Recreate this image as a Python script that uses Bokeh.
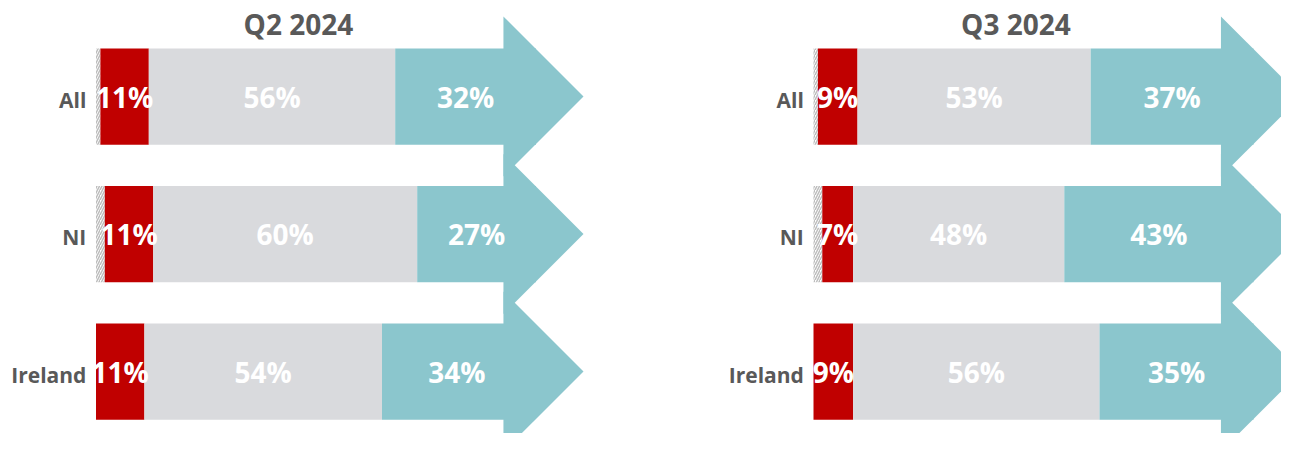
import numpy as np
from bokeh.plotting import figure
from bokeh.layouts import row
from bokeh.core.properties import value
from bokeh.embed import file_html
from bokeh.resources import INLINE

categories = ["All", "NI", "Ireland"]
periods = ["Q2 2024", "Q3 2024"]

q2_dont_know = [1, 2, 0]
q2_decrease = [11, 11, 11]
q2_same = [56, 60, 54]
q2_increase = [32, 27, 34]

q3_dont_know = [1, 2, 0]
q3_decrease = [9, 7, 9]
q3_same = [53, 48, 56]
q3_increase = [37, 43, 35]

RED = "#C00000"
GREY = "#D9DADD"
TEAL = "#8BC6CD"
TXT = "#595959"
FONT = value("Open Sans")

PX_PER_PCT = 4.4
PX_PER_ROW = 137.5
HEIGHT = 433
Y_START = -62 / PX_PER_ROW
Y_END = Y_START + HEIGHT / PX_PER_ROW

ARROW_BASE = 92.6
ARROW_LEN = 18.2
ARROW_HALF = 80 / PX_PER_ROW
BAR_H = 0.70


def panel(title, dk, dec, same, inc, width, zero_px):
    x_start = -zero_px / PX_PER_PCT
    p = figure(width=width, height=HEIGHT,
               x_range=(x_start, x_start + width / PX_PER_PCT),
               y_range=(Y_START, Y_END),
               output_backend="svg", toolbar_location=None,
               min_border=0, min_border_left=0, min_border_right=0,
               min_border_top=0, min_border_bottom=0,
               outline_line_color=None, background_fill_color="white",
               border_fill_color="white")
    p.axis.visible = False
    p.grid.visible = False

    n = len(categories)
    ys = [n - 1 - i for i in range(n)]
    dk = np.array(dk, float)
    dec = np.array(dec, float)
    same = np.array(same, float)
    inc = np.array(inc, float)
    s0 = np.zeros(n)
    s1 = s0 + dk
    s2 = s1 + dec
    s3 = s2 + same
    s4 = s3 + inc

    # don't know (hatched)
    p.hbar(y=ys, left=s0, right=s1, height=BAR_H, fill_color="white",
           line_color=None, hatch_pattern="/", hatch_color="#bdbdbd",
           hatch_scale=5, hatch_weight=1.5)
    p.hbar(y=ys, left=s1, right=s2, height=BAR_H, fill_color=RED, line_color=None)
    p.hbar(y=ys, left=s2, right=s3, height=BAR_H, fill_color=GREY, line_color=None)
    p.hbar(y=ys, left=s3, right=s4, height=BAR_H, fill_color=TEAL, line_color=None)

    # arrow heads
    axs = [[ARROW_BASE, ARROW_BASE + ARROW_LEN, ARROW_BASE] for _ in ys]
    ays = [[y + ARROW_HALF, y, y - ARROW_HALF] for y in ys]
    p.patches(xs=axs, ys=ays, fill_color=TEAL, line_color=None)

    # value labels
    lx = list((s1 + s2) / 2) + list((s2 + s3) / 2) + list((s3 + s4) / 2)
    ly = ys * 3
    lt = [f"{int(v)}%" for v in list(dec) + list(same) + list(inc)]
    p.text(x=lx, y=ly, text=lt, text_align="center", text_baseline="middle",
           text_font=FONT, text_font_size="28px", text_font_style="bold",
           text_color="white")

    # category labels
    p.text(x=[-2.2] * n, y=ys, text=categories, text_align="right",
           text_baseline="middle", y_offset=3,
           text_font=FONT, text_font_size="21px", text_font_style="bold",
           text_color=TXT)

    # title
    p.text(x=[46], y=[Y_END - 23 / PX_PER_ROW], text=[title],
           text_align="center", text_baseline="middle",
           text_font=FONT, text_font_size="28px", text_font_style="bold",
           text_color=TXT)
    return p


p1 = panel(periods[0], q2_dont_know, q2_decrease, q2_same, q2_increase, 640, 95.5)
p2 = panel(periods[1], q3_dont_know, q3_decrease, q3_same, q3_increase, 641, 173)

layout = row(p1, p2)
open("out.html", "w").write(file_html(layout, INLINE))
